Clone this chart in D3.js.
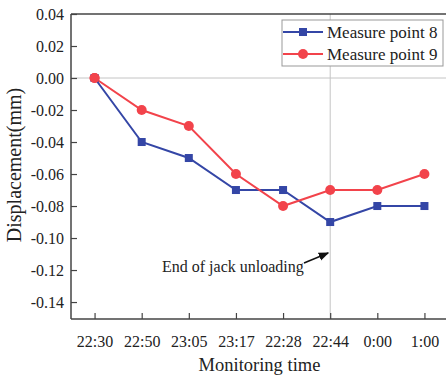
<!DOCTYPE html>
<html><head><meta charset="utf-8">
<script src="https://cdn.jsdelivr.net/npm/d3@7"></script>
<style>body{margin:0;background:#fff}svg{display:block}text{font-family:"Liberation Serif","Times New Roman",serif;fill:#222}</style>
</head><body><svg id="c" width="446" height="380"></svg>
<script>
const categories = ["22:30","22:50","23:05","23:17","22:28","22:44","0:00","1:00"];
const point8 = [0, -0.04, -0.05, -0.07, -0.07, -0.09, -0.08, -0.08];
const point9 = [0, -0.02, -0.03, -0.06, -0.08, -0.07, -0.07, -0.06];
const yTicks = [0.04, 0.02, 0.00, -0.02, -0.04, -0.06, -0.08, -0.10, -0.12, -0.14];
const seriesNames = ["Measure point 8", "Measure point 9"];
const colors = ["#3446a6", "#f2434b"];
const annotation = "End of jack unloading";
const markerIndex = 5;

const svg = d3.select("#c");
const L = 71, R = 448, T = 14, B = 319;
const x = d3.scalePoint().domain(categories).range([L, R]).padding(0.5);
const y = d3.scaleLinear().domain([-0.1506, 0.04]).range([B, T]);

// reference lines
svg.append("line").attr("x1", L).attr("x2", 446).attr("y1", y(0)).attr("y2", y(0))
  .attr("stroke", "#c4c4c4").attr("stroke-width", 1);
svg.append("line").attr("x1", x(categories[markerIndex])).attr("x2", x(categories[markerIndex]))
  .attr("y1", T).attr("y2", B).attr("stroke", "#c4c4c4").attr("stroke-width", 1);

// top frame
svg.append("line").attr("x1", L).attr("x2", 446).attr("y1", T).attr("y2", T)
  .attr("stroke", "#444").attr("stroke-width", 1.5);

// axes
const yAxis = d3.axisLeft(y).tickValues(yTicks).tickSize(-6).tickPadding(12)
  .tickFormat(d => d3.format(".2f")(d).replace("−", "-"));
const gy = svg.append("g").attr("transform", `translate(${L},0)`).call(yAxis);
gy.select(".domain").attr("d", `M0,${T}V${B}`).attr("stroke", "#444").attr("stroke-width", 1.5);
gy.selectAll(".tick line").attr("stroke", "#444").attr("stroke-width", 1.2);
gy.selectAll("text").attr("font-size", 16).attr("fill", "#222").attr("x", -7)
  .style("font-family", '"Liberation Serif",serif');

const xAxis = d3.axisBottom(x).tickSize(-6).tickPadding(14);
const gx = svg.append("g").attr("transform", `translate(0,${B})`).call(xAxis);
gx.select(".domain").attr("d", `M${L},0H446`).attr("stroke", "#444").attr("stroke-width", 1.5);
gx.selectAll(".tick line").attr("stroke", "#444").attr("stroke-width", 1.2);
gx.selectAll("text").attr("font-size", 16).attr("fill", "#222").attr("dy", "0.9em")
  .style("font-family", '"Liberation Serif",serif');

// titles
svg.append("text").attr("x", (L + 446) / 2 + 1).attr("y", 371).attr("text-anchor", "middle")
  .attr("font-size", 18.5).text("Monitoring time");
svg.append("text").attr("transform", "translate(21,165) rotate(-90)").attr("text-anchor", "middle")
  .attr("font-size", 20).text("Displacement(mm)");

// lines
const line = d3.line().x((d, i) => x(categories[i])).y(d => y(d));
[point8, point9].forEach((s, k) => {
  svg.append("path").datum(s).attr("d", line).attr("fill", "none")
    .attr("stroke", colors[k]).attr("stroke-width", 2);
});
svg.selectAll(".m9").data(point9).enter().append("circle")
  .attr("cx", (d, i) => x(categories[i])).attr("cy", d => y(d)).attr("r", 5).attr("fill", colors[1]);
svg.selectAll(".m8").data(point8).enter().append("rect")
  .attr("x", (d, i) => x(categories[i]) - 4).attr("y", d => y(d) - 4)
  .attr("width", 8).attr("height", 8).attr("fill", colors[0]);
// redraw first red circle on top as in reference
svg.append("circle").attr("cx", x(categories[0])).attr("cy", y(point9[0])).attr("r", 5).attr("fill", colors[1]);

// annotation
svg.append("text").attr("x", 162).attr("y", 272).attr("font-size", 16).text(annotation);
svg.append("defs").append("marker").attr("id", "ah").attr("viewBox", "0 0 10 10")
  .attr("refX", 9).attr("refY", 5).attr("markerWidth", 7).attr("markerHeight", 7).attr("orient", "auto")
  .append("path").attr("d", "M0,1L10,5L0,9z").attr("fill", "#111");
svg.append("line").attr("x1", 304).attr("y1", 263).attr("x2", x(categories[markerIndex]) - 2).attr("y2", 253)
  .attr("stroke", "#111").attr("stroke-width", 1.5).attr("marker-end", "url(#ah)");

// legend
const lg = svg.append("g");
lg.append("rect").attr("x", 282).attr("y", 20).attr("width", 161).attr("height", 46)
  .attr("fill", "#fff").attr("stroke", "#999").attr("stroke-width", 1);
seriesNames.forEach((n, k) => {
  const yy = 32 + k * 22;
  lg.append("line").attr("x1", 283).attr("x2", 323).attr("y1", yy).attr("y2", yy)
    .attr("stroke", colors[k]).attr("stroke-width", 2);
  if (k === 0) lg.append("rect").attr("x", 299).attr("y", yy - 4).attr("width", 8).attr("height", 8).attr("fill", colors[k]);
  else lg.append("circle").attr("cx", 303).attr("cy", yy).attr("r", 5).attr("fill", colors[k]);
  lg.append("text").attr("x", 327).attr("y", yy + 6).attr("font-size", 17).text(n);
});
</script></body></html>
